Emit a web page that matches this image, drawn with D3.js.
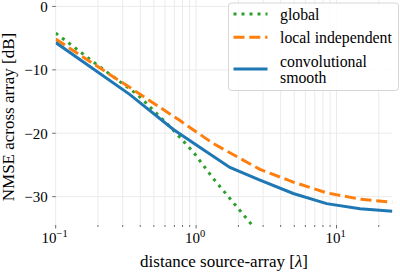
<!DOCTYPE html>
<html>
<head>
<meta charset="utf-8">
<script src="https://cdn.jsdelivr.net/npm/d3@7"></script>
<style>
  body { margin: 0; background: #fff; }
  svg { display: block; }
  text { font-family: "Liberation Serif", "DejaVu Serif", serif; }
</style>
</head>
<body>
<svg id="chart" width="400" height="272" font-family="Liberation Serif"></svg>
<script>
(() => {
    // distances [lambda] and NMSE [dB]
    const globalX = [0.1, 0.2, 0.387, 0.681, 0.966, 1.32, 2.55, 3.0];
    const globalY = [-4.2, -9.3, -14.0, -19.4, -23.1, -27.1, -34.7, -36.6];

    const localX = [0.1, 0.338, 0.768, 1.32, 2.85, 4.92, 8.5, 14.7, 25];
    const localY = [-5.15, -12.8, -18.0, -21.6, -25.7, -27.7, -29.4, -30.4, -30.9];

    const convX = [0.1, 0.338, 0.689, 1.01, 1.74, 2.85, 4.92, 8.5, 14.7, 25];
    const convY = [-5.7, -13.9, -19.4, -21.9, -25.4, -27.4, -29.5, -31.1, -31.9, -32.3];

    const yTicks = [0, -10, -20, -30];
    const xMajor = [0.1, 1, 10];
    const xMajorExp = ["\u22121", "0", "1"];

    const series = [
        { name: "global", xs: globalX, ys: globalY, color: "#2ca02c", dash: "3,5" },
        { name: "local independent", xs: localX, ys: localY, color: "#ff7f0e", dash: "11,4.8" },
        { name: "convolutional\nsmooth", xs: convX, ys: convY, color: "#1f77b4", dash: null }
    ];

    const svg = d3.select("#chart");
    const left = 55.7, right = 392.4, top = 1, bottom = 225;
    const serif = "Liberation Serif";

    const x = d3.scaleLog().domain([0.1, 25]).range([left, right]);
    const y = d3.scaleLinear().domain([-34.47, 0.86]).range([bottom, top]);

    // minor ticks for the log axis
    const xMinor = [];
    for (const dec of [0.1, 1, 10]) {
        for (let k = 2; k <= 9; k++) {
            const v = dec * k;
            if (v <= 25) xMinor.push(v);
        }
    }

    const grid = svg.append("g").attr("stroke", "#ebebeb").attr("stroke-width", 1);
    grid.selectAll(".vx").data(xMajor.concat(xMinor)).enter().append("line")
        .attr("x1", d => x(d)).attr("x2", d => x(d))
        .attr("y1", 0).attr("y2", bottom);
    grid.selectAll(".hy").data(yTicks).enter().append("line")
        .attr("x1", left).attr("x2", right)
        .attr("y1", d => y(d)).attr("y2", d => y(d));

    // tick marks
    const ticks = svg.append("g").attr("stroke", "#444").attr("stroke-width", 0.8);
    ticks.selectAll(".mj").data(xMajor).enter().append("line")
        .attr("x1", d => x(d)).attr("x2", d => x(d))
        .attr("y1", bottom).attr("y2", bottom + 3.5);
    ticks.selectAll(".mn").data(xMinor).enter().append("line")
        .attr("x1", d => x(d)).attr("x2", d => x(d))
        .attr("y1", bottom).attr("y2", bottom + 2);
    ticks.selectAll(".yt").data(yTicks).enter().append("line")
        .attr("x1", left - 3.5).attr("x2", left)
        .attr("y1", d => y(d)).attr("y2", d => y(d));

    // y tick labels
    svg.append("g").selectAll("text").data(yTicks).enter().append("text")
        .attr("font-family", serif)
        .attr("x", left - 8).attr("y", d => y(d))
        .attr("dy", "0.35em")
        .attr("text-anchor", "end")
        .attr("font-size", 15)
        .text(d => d === 0 ? "0" : "\u2212" + Math.abs(d));

    // x tick labels 10^n
    const xl = svg.append("g").selectAll("text").data(xMajor).enter().append("text")
        .attr("font-family", serif)
        .attr("x", d => x(d) - 1).attr("y", 243.3)
        .attr("text-anchor", "middle")
        .attr("font-size", 15);
    xl.append("tspan").text("10");
    xl.append("tspan").attr("dy", -6).attr("font-size", 10.5).text((d, i) => xMajorExp[i]);

    // curves
    svg.append("clipPath").attr("id", "plotclip")
        .append("rect").attr("x", left).attr("y", 0).attr("width", right - left).attr("height", bottom);

    const line = d3.line().x(d => x(d[0])).y(d => y(d[1]));
    svg.append("g").attr("clip-path", "url(#plotclip)")
        .selectAll("path").data(series).enter().append("path")
        .attr("d", s => line(s.xs.map((v, i) => [v, s.ys[i]])))
        .attr("fill", "none")
        .attr("stroke", s => s.color)
        .attr("stroke-width", 3)
        .attr("stroke-dasharray", s => s.dash);

    // axis labels
    const xlab = svg.append("text")
        .attr("font-family", serif)
        .attr("x", (left + right) / 2).attr("y", 266.7)
        .attr("text-anchor", "middle").attr("font-size", 17);
    xlab.append("tspan").text("distance source-array [");
    xlab.append("tspan").attr("font-style", "italic").text("\u03bb");
    xlab.append("tspan").text("]");

    svg.append("text")
        .attr("font-family", serif)
        .attr("transform", `translate(14,${(top + bottom) / 2 + 4}) rotate(-90)`)
        .attr("text-anchor", "middle").attr("font-size", 17)
        .text("NMSE across array [dB]");

    // legend
    const lg = svg.append("g");
    lg.append("rect")
        .attr("x", 228.5).attr("y", 3).attr("width", 170).attr("height", 87.5)
        .attr("rx", 3)
        .attr("fill", "#fff").attr("fill-opacity", 0.85)
        .attr("stroke", "#d6d6d6").attr("stroke-width", 1);

    const rowsY = [14, 37.3, 69];
    series.forEach((s, i) => {
        lg.append("line")
            .attr("x1", 233.5).attr("x2", 267.5)
            .attr("y1", rowsY[i]).attr("y2", rowsY[i])
            .attr("stroke", s.color).attr("stroke-width", 3)
            .attr("stroke-dasharray", s.dash);
        const parts = s.name.split("\n");
        const t = lg.append("text").attr("font-family", serif).attr("font-size", 15.8).attr("x", 280);
        if (parts.length === 1) {
            t.attr("y", rowsY[i]).attr("dy", "0.35em").text(parts[0]);
        } else {
            t.append("tspan").attr("x", 280).attr("y", 61).attr("dy", "0.35em").text(parts[0]);
            t.append("tspan").attr("x", 280).attr("y", 77.7).attr("dy", "0.35em").text(parts[1]);
        }
    });
})();
</script>
</body>
</html>
